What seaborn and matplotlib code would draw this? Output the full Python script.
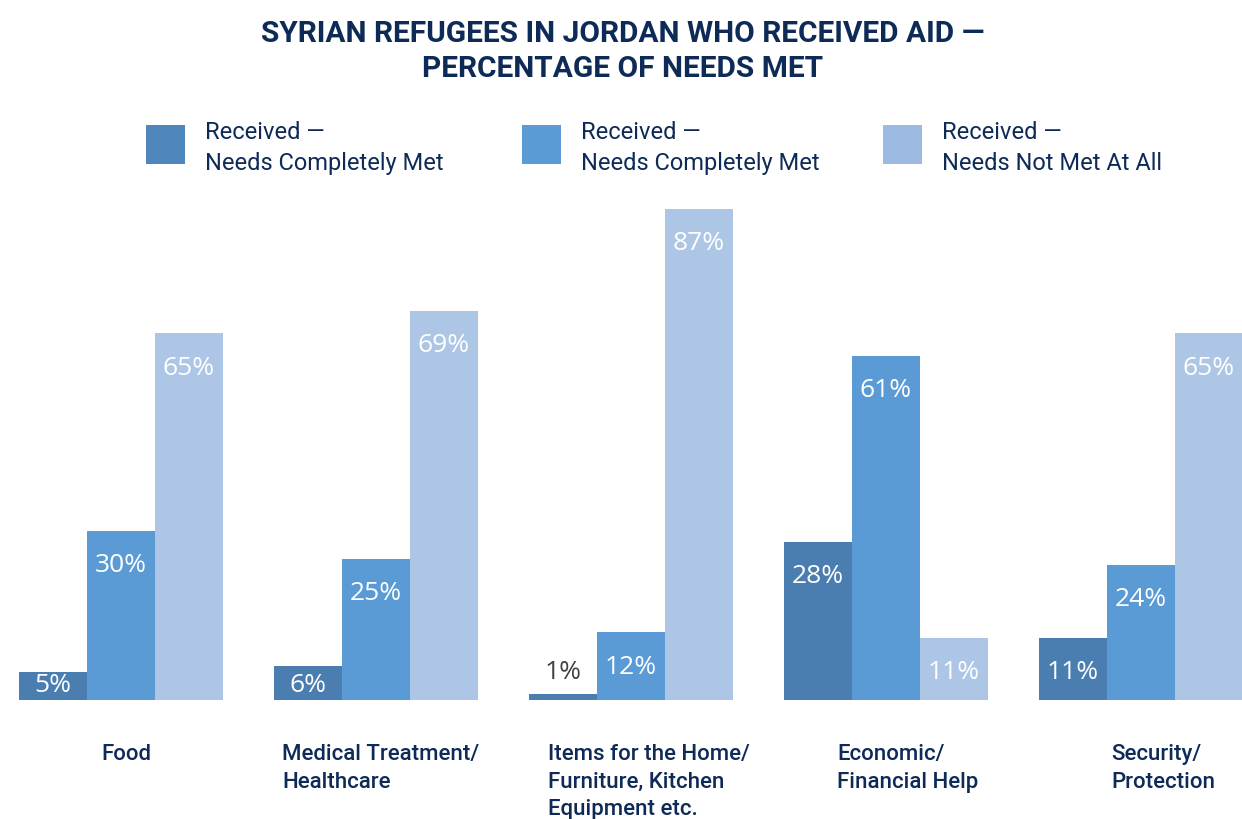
import matplotlib
matplotlib.use("Agg")
import matplotlib.pyplot as plt
import matplotlib.transforms as mtransforms
from matplotlib.patches import Patch, Rectangle
from matplotlib.legend_handler import HandlerPatch
import seaborn as sns
import pandas as pd

# Aid categories (x-axis) and the three response series
categories = [
    "Food",
    "Medical Treatment/\nHealthcare",
    "Items for the Home/\nFurniture, Kitchen\nEquipment etc.",
    "Economic/\nFinancial Help",
    "Security/\nProtection",
]
series_keys = ["met_a", "met_b", "not_met"]
series_labels = [
    "Received \u2014\nNeeds Completely Met",
    "Received \u2014\nNeeds Completely Met",
    "Received \u2014\nNeeds Not Met At All",
]
values_met_a = [5, 6, 1, 28, 11]
values_met_b = [30, 25, 12, 61, 24]
values_not_met = [65, 69, 87, 11, 65]

colors = ["#4A7EB0", "#5B9BD5", "#ADC6E6"]
legend_colors = ["#4F87BC", "#5B9BD5", "#9DBBE2"]
navy = "#0E2A57"

rows = []
for key, vals in zip(series_keys, [values_met_a, values_met_b, values_not_met]):
    for cat, v in zip(categories, vals):
        rows.append({"category": cat, "series": key, "value": v})
df = pd.DataFrame(rows)

sns.set_theme(style="white")
plt.rcParams["font.family"] = ["Roboto", "DejaVu Sans"]

W, H = 1242, 819
fig = plt.figure(figsize=(W / 100, H / 100), dpi=100)
ax = fig.add_axes([0, 1 - 700 / H, 1, 500 / H])

sns.barplot(
    data=df, x="category", y="value", hue="series",
    order=categories, hue_order=series_keys,
    palette=dict(zip(series_keys, colors)),
    width=0.8, saturation=1, legend=False, ax=ax,
    linewidth=0, edgecolor="none",
)

ax.set_xlim(-121 / 255, 4 + 101 / 255)
ax.set_ylim(0, 500 / 5.644)
px = 1 / 5.644  # data units per pixel on the value axis

# Value labels inside the top of each bar
for container, vals in zip(ax.containers, [values_met_a, values_met_b, values_not_met]):
    for bar, v in zip(container, vals):
        xc = bar.get_x() + bar.get_width() / 2
        if v < 3:
            ax.text(xc, v + 22 * px, f"{v}%", ha="center", va="center",
                    color="#404040", fontsize=19, family="Open Sans")
        else:
            y = max(v - 35 * px, 15 * px)
            ax.text(xc, y, f"{v}%", ha="center", va="center",
                    color="white", fontsize=19, family="Open Sans")

sns.despine(ax=ax, left=True, bottom=True)
ax.set_yticks([])
ax.set_xlabel("")
ax.set_ylabel("")
ax.tick_params(axis="x", length=0, pad=32)
label_shift_px = [5, 5, 18, 22, 22]
for lab, dx in zip(ax.get_xticklabels(), label_shift_px):
    lab.set_multialignment("left")
    lab.set_fontsize(16)
    lab.set_color(navy)
    lab.set_fontweight("medium")
    lab.set_linespacing(1.38)
    lab.set_transform(lab.get_transform()
                      + mtransforms.ScaledTranslation(dx / 100, 0, fig.dpi_scale_trans))

# Title
fig.text(0.5015, 1 - 51.5 / H,
         "SYRIAN REFUGEES IN JORDAN WHO RECEIVED AID \u2014\nPERCENTAGE OF NEEDS MET",
         ha="center", va="center", fontsize=21.5, fontweight="bold", color=navy,
         linespacing=1.3)


# Square legend swatch, sitting slightly above the text's middle
def square_swatch(legend, orig_handle, xdescent, ydescent, width, height, fontsize):
    side = 28.0
    return Rectangle((-xdescent, -ydescent + (height - side) / 2 + 3.6), side, side)


# Legend: one entry per block, spaced across the top
legend_x_px = [146, 522, 883]
for c, label, x0 in zip(legend_colors, series_labels, legend_x_px):
    leg = fig.legend([Patch(facecolor=c, edgecolor="none")], [label],
                     loc="center left", bbox_to_anchor=(x0 / W, 1 - 148 / H),
                     frameon=False, fontsize=17, handlelength=28 / 17,
                     handleheight=2.0, handletextpad=0.85,
                     borderaxespad=0, borderpad=0,
                     handler_map={Patch: HandlerPatch(patch_func=square_swatch)})
    for t in leg.get_texts():
        t.set_color(navy)
        t.set_linespacing(1.45)

fig.savefig("out.png", dpi=100)
